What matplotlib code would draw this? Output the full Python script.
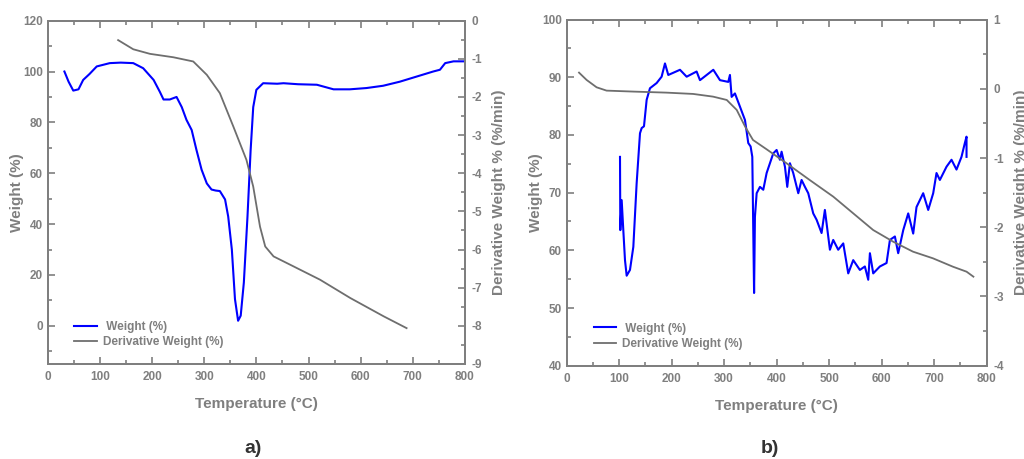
import matplotlib
matplotlib.use("Agg")
import matplotlib.pyplot as plt
from matplotlib.ticker import MultipleLocator

plt.rcParams['font.family'] = ['Liberation Sans', 'DejaVu Sans']
plt.rcParams['font.weight'] = 'bold'
plt.rcParams['axes.unicode_minus'] = False

gray = "#7f7f7f"
blue = "#0000ff"
dgray = "#6e6e6e"

# panel a) weight (left axis) and derivative weight (right axis)
a_w_t = [32, 40, 49, 59, 68, 80, 94, 119, 140, 164, 183, 203, 215, 222, 234, 247,
         257, 266, 276, 285, 295, 305, 314, 322, 330, 340, 346, 353, 359, 365, 370,
         376, 383, 389, 394, 400, 413, 440, 452, 480, 516, 548, 579, 611, 643, 675,
         707, 739, 752, 762, 778, 800]
a_w = [100, 96, 92.5, 93, 96.7, 99, 102, 103.3, 103.5, 103.3, 101.3, 96.7, 92,
       89, 89, 90, 86, 81, 77, 69.3, 61.4, 56, 53.6, 53.2, 53, 49.7, 43, 30, 10.5,
       2, 4, 17, 43, 69, 86, 92.8, 95.4, 95.2, 95.4, 95, 94.8, 93, 93, 93.5, 94.4,
       96, 98, 100, 100.7, 103.3, 104, 104]

a_d_t = [135, 164, 196, 241, 279, 305, 330, 356, 381, 394, 407, 417, 433, 471, 522,
         580, 644, 688]
a_d = [-0.51, -0.75, -0.87, -0.96, -1.07, -1.42, -1.9, -2.78, -3.65, -4.35, -5.4,
       -5.92, -6.18, -6.44, -6.79, -7.27, -7.75, -8.06]

# panel b)
b_w_t = [101.6, 102.2, 104.8, 107.9, 111.1, 114.3, 120.6, 127.0, 133.3, 139.7,
         142.9, 147.3, 152.4, 158.7, 171.4, 180.9, 187.3, 193.6, 215.9, 228.6,
         247.6, 254.0, 266.7, 279.4, 292.1, 307.9, 311.1, 314.3, 320.6, 330.2,
         339.7, 342.9, 346.0, 350.5, 353.7, 357.1, 358.7, 362.0, 368.3, 374.6,
         381.0, 387.3, 393.6, 400.0, 406.3, 409.5, 415.9, 420.3, 425.4, 431.7,
         441.3, 447.6, 454.0, 460.3, 469.8, 476.2, 485.7, 492.0, 501.6, 507.9,
         517.4, 527.0, 536.5, 546.0, 558.7, 568.2, 574.6, 577.8, 584.1, 596.8,
         609.5, 615.9, 625.4, 631.7, 641.3, 650.8, 660.3, 666.6, 679.3, 688.9,
         698.4, 704.7, 711.1, 723.8, 733.3, 742.8, 752.3, 758.7, 761.9, 761.9]
b_w = [76.2, 63.5, 68.7, 63.5, 58.3, 55.6, 56.6, 60.6, 71.6, 80.3, 81.2, 81.5, 86.1,
       88.1, 89.0, 90.1, 92.4, 90.4, 91.3, 90.1, 91.0, 89.5, 90.4, 91.3, 89.5,
       89.2, 90.4, 86.6, 87.2, 84.9, 82.6, 80.6, 78.6, 78.0, 76.2, 52.6, 65.8, 69.9,
       71.0, 70.5, 73.4, 75.1, 76.8, 77.4, 75.7, 77.1, 74.5, 71.0, 75.1, 73.4,
       69.9, 72.2, 71.0, 69.9, 66.4, 65.3, 63.0, 67.0, 60.1, 61.8,
       60.1, 61.2, 56.0, 58.3, 56.6, 57.2, 54.9, 59.5, 56.0, 57.2,
       57.8, 61.8, 62.4, 59.5, 63.5, 66.4, 62.9, 67.5, 69.9, 67.0,
       69.9, 73.4, 72.2, 74.5, 75.7, 74.0, 76.2, 78.6, 79.7, 76.2]

b_d_t = [23.5, 38, 57, 76, 127, 190, 241, 279, 305, 324, 340, 355, 381, 419, 463,
         508, 546, 584, 622, 660, 698, 736, 762, 775]
b_d = [0.234, 0.128, 0.022, -0.026, -0.040, -0.055, -0.074, -0.113, -0.161, -0.305,
       -0.546, -0.739, -0.874, -1.076, -1.317, -1.558, -1.799, -2.04, -2.208, -2.353,
       -2.449, -2.57, -2.642, -2.714]

panels = [
    dict(rect=[0.0466, 0.207, 0.4075, 0.748], wt=a_w_t, w=a_w, dt=a_d_t, d=a_d,
         ylim=(-15, 120), ymaj=20, ymin=10, y2lim=(-9, 0), tag="a)", tagx=0.247),
    dict(rect=[0.5534, 0.2033, 0.410, 0.754], wt=b_w_t, w=b_w, dt=b_d_t, d=b_d,
         ylim=(40, 100), ymaj=10, ymin=5, y2lim=(-4, 1), tag="b)", tagx=0.752),
]

fig = plt.figure(figsize=(10.24, 4.59), dpi=100)

for p in panels:
    ax = fig.add_axes(p["rect"])
    ax2 = ax.twinx()
    l1, = ax.plot(p["wt"], p["w"], color=blue, lw=1.5, label=" Weight (%)")
    l2, = ax2.plot(p["dt"], p["d"], color=dgray, lw=1.3, label="Derivative Weight (%)")
    ax.set_xlim(0, 800)
    ax.set_ylim(*p["ylim"])
    ax2.set_ylim(*p["y2lim"])
    ax.xaxis.set_major_locator(MultipleLocator(100))
    ax.xaxis.set_minor_locator(MultipleLocator(50))
    ax.yaxis.set_major_locator(MultipleLocator(p["ymaj"]))
    ax.yaxis.set_minor_locator(MultipleLocator(p["ymin"]))
    ax2.yaxis.set_major_locator(MultipleLocator(1))
    ax2.yaxis.set_minor_locator(MultipleLocator(0.5))
    for a in (ax, ax2):
        for s in a.spines.values():
            s.set_color(gray)
            s.set_linewidth(1.4)
        a.tick_params(which="both", direction="in", colors=gray, width=1.2,
                      labelsize=8.5, labelcolor=gray)
        a.tick_params(which="major", length=5)
        a.tick_params(which="minor", length=3)
    ax.tick_params(which="both", top=True)
    ax.tick_params(axis="x", pad=5)
    ax2.tick_params(axis="y", pad=5)
    ax.set_xlabel("Temperature (°C)", fontsize=11, color=gray, fontweight="bold",
                  labelpad=10)
    ax.set_ylabel("Weight (%)", fontsize=11, color=gray, fontweight="bold",
                  labelpad=-1)
    ax2.set_ylabel("Derivative Weight % (%/min)", fontsize=11, color=gray,
                   fontweight="bold", labelpad=7)
    leg = ax.legend(handles=[l1, l2], loc="lower left", bbox_to_anchor=(0.05, 0.028),
                    frameon=False, fontsize=8.5, handlelength=1.9, labelspacing=0.3,
                    handletextpad=0.5, borderpad=0)
    for t in leg.get_texts():
        t.set_color(gray)
    fig.text(p["tagx"], 0.012, p["tag"], fontsize=14, fontweight="bold",
             color="#333333", ha="center")

fig.savefig("out.png", dpi=100)
